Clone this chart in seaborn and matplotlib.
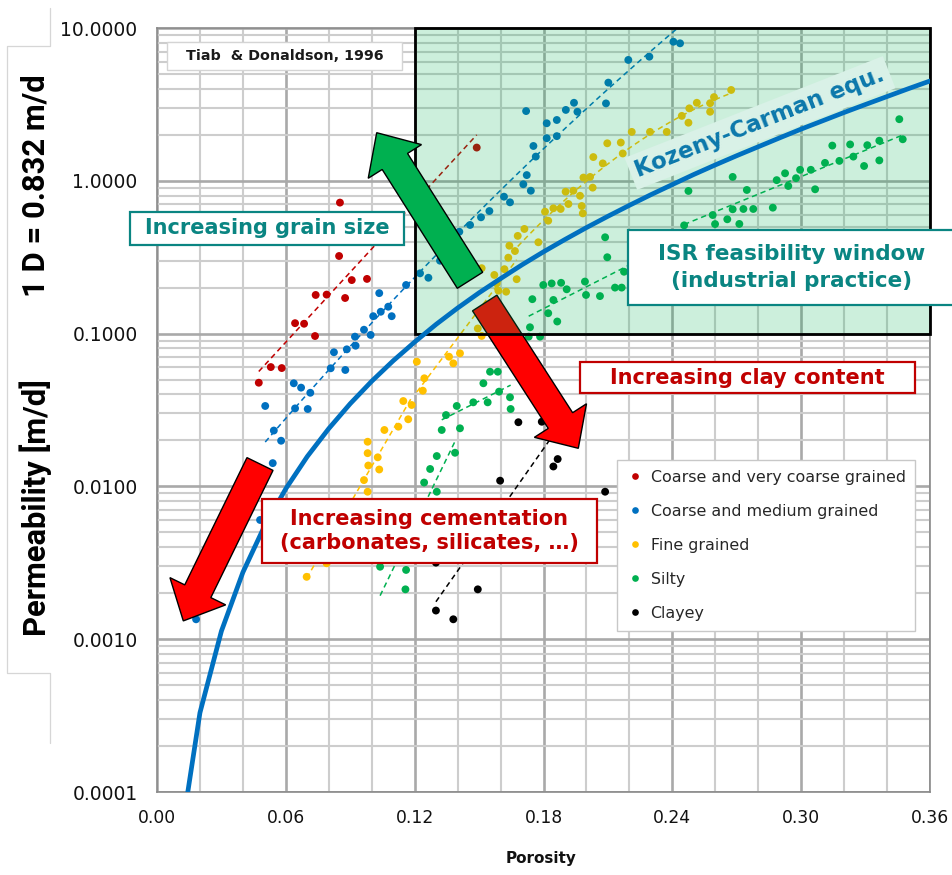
import numpy as np
import pandas as pd
import matplotlib
matplotlib.use("Agg")
import matplotlib.pyplot as plt
from matplotlib.patches import Rectangle, FancyArrow
from matplotlib.ticker import FixedLocator, FuncFormatter, NullFormatter
import seaborn as sns

# ---------------- data ----------------
groups = ["Coarse and very coarse grained", "Coarse and medium grained",
          "Fine grained", "Silty", "Clayey"]
group_colors = ["#c00000", "#0070c0", "#ffc000", "#00b050", "#000000"]

red_phi = [0.0852, 0.0848, 0.0907, 0.0978, 0.0739, 0.0790, 0.0876, 0.0643, 0.0685,
           0.0736, 0.0530, 0.0581, 0.0474, 0.1489]
red_k = [0.72, 0.322, 0.224, 0.228, 0.179, 0.180, 0.171, 0.117, 0.116,
         0.0964, 0.0604, 0.0595, 0.0477, 1.65]
red_sub = ["R1"] * 14

blue_phi = [0.2436, 0.2405, 0.2293, 0.2195, 0.2102, 0.2091, 0.1942, 0.1958, 0.1904, 0.1862,
            0.1815, 0.1815, 0.1862, 0.1719, 0.1753, 0.1764, 0.1722, 0.1706, 0.1741, 0.1616,
            0.1644, 0.1548, 0.1509, 0.1458, 0.1408, 0.1318, 0.1225, 0.1264, 0.1160, 0.1035,
            0.1007, 0.1042, 0.1077, 0.1093, 0.0964, 0.0922, 0.0995, 0.0925, 0.0884, 0.0824,
            0.0809, 0.0877, 0.0637, 0.0671, 0.0714, 0.0643, 0.0702, 0.0504, 0.0544, 0.0578,
            0.0539, 0.0480, 0.0182]
blue_k = [7.94, 8.13, 6.49, 6.18, 4.39, 3.21, 3.24, 2.83, 2.91, 2.50,
          2.38, 1.90, 1.96, 2.86, 1.69, 1.44, 1.09, 0.949, 0.861, 0.787,
          0.723, 0.634, 0.577, 0.514, 0.464, 0.300, 0.248, 0.232, 0.208, 0.184,
          0.130, 0.139, 0.150, 0.130, 0.106, 0.0955, 0.098, 0.0833, 0.0789, 0.0755,
          0.0593, 0.0578, 0.0473, 0.0443, 0.0410, 0.0324, 0.0321, 0.0336, 0.0232, 0.0199,
          0.0142, 0.00603, 0.00135]
blue_sub = ["B1"] * 51 + ["B0"] * 2

yellow_phi = [0.2674, 0.2594, 0.2576, 0.2514, 0.2479, 0.2576, 0.2444, 0.2475, 0.2374, 0.2296,
              0.2211, 0.2160, 0.2097, 0.2169, 0.2076, 0.2032, 0.2017, 0.1986, 0.2029, 0.1903,
              0.1939, 0.1970, 0.1978, 0.1983, 0.1846, 0.1880, 0.1916, 0.1807, 0.1822, 0.1711,
              0.1680, 0.1776,
              0.1641, 0.1667, 0.1636, 0.1675, 0.1618, 0.1571, 0.1512, 0.1582, 0.1626, 0.1590,
              0.1512, 0.1494, 0.1411, 0.1380, 0.1360, 0.1210, 0.1245, 0.1238,
              0.1147, 0.1186, 0.1170, 0.1124, 0.1059, 0.0981, 0.0981, 0.1028, 0.0984, 0.1035,
              0.0964, 0.0981, 0.0790, 0.0697]
yellow_k = [3.93, 3.53, 3.22, 3.24, 2.98, 2.83, 2.66, 2.40, 2.09, 2.09,
            2.09, 1.78, 1.76, 1.51, 1.30, 1.43, 1.06, 1.05, 0.902, 0.849,
            0.861, 0.798, 0.684, 0.612, 0.661, 0.654, 0.705, 0.628, 0.548, 0.484,
            0.436, 0.396,
            0.376, 0.347, 0.314, 0.227, 0.264, 0.242, 0.268, 0.213, 0.188, 0.191,
            0.0965, 0.108, 0.0743, 0.0639, 0.0706, 0.0655, 0.0510, 0.0423,
            0.0362, 0.0341, 0.0275, 0.0246, 0.0234, 0.0196, 0.0165, 0.0155, 0.0137, 0.0129,
            0.0110, 0.00923, 0.00314, 0.00256]
yellow_sub = ["Y3"] * 32 + ["Y2"] * 18 + ["Y1"] * 14

green_phi = [0.3457, 0.3473, 0.3364, 0.3364, 0.3308, 0.3293, 0.3228, 0.3243, 0.3178, 0.3145,
             0.3111, 0.3065, 0.3045, 0.2995, 0.2976, 0.2940, 0.2925, 0.2886, 0.2868, 0.2777,
             0.2731, 0.2681, 0.2747, 0.2681, 0.2712, 0.2656, 0.2588, 0.2599, 0.2475, 0.2455,
             0.2237, 0.2175, 0.2087, 0.2097, 0.2133, 0.2164, 0.2063, 0.1998, 0.1993, 0.1908,
             0.1882, 0.1838, 0.1799, 0.1846, 0.1748, 0.1822, 0.1864, 0.1737, 0.1784, 0.1731,
             0.1551, 0.1587, 0.1520, 0.1593, 0.1644, 0.1540, 0.1473, 0.1647, 0.1396, 0.1346,
             0.1411, 0.1326,
             0.1303, 0.1388, 0.1272, 0.1244, 0.1303, 0.1039, 0.1160, 0.1157]
green_k = [2.53, 1.87, 1.83, 1.36, 1.71, 1.25, 1.73, 1.44, 1.35, 1.70,
           1.31, 0.880, 1.18, 1.18, 1.04, 0.925, 1.12, 1.01, 0.667, 0.654,
           0.654, 0.651, 0.871, 1.06, 0.522, 0.560, 0.597, 0.521, 0.858, 0.511,
           0.274, 0.254, 0.427, 0.316, 0.200, 0.200, 0.176, 0.179, 0.219, 0.195,
           0.215, 0.213, 0.208, 0.166, 0.168, 0.136, 0.120, 0.110, 0.0955, 0.0955,
           0.0563, 0.0563, 0.0473, 0.0417, 0.0383, 0.0355, 0.0355, 0.0321, 0.0336, 0.0293,
           0.0240, 0.0234,
           0.0158, 0.0166, 0.0130, 0.0106, 0.00923, 0.00298, 0.00284, 0.00212]
green_sub = ["G3"] * 30 + ["G2"] * 20 + ["G1b"] * 12 + ["G1a"] * 8

black_phi = [0.1299, 0.1380, 0.1299, 0.1494, 0.1598, 0.1683, 0.1792, 0.1846, 0.1866, 0.2087]
black_k = [0.00154, 0.00135, 0.00317, 0.00212, 0.0109, 0.0263, 0.0265, 0.0135, 0.0151, 0.00923]
black_sub = ["K1"] * 9 + ["K0"]

# polynomial degree of the dashed trend line (log k vs porosity) per sub-series
trend_degree = {"R1": 1, "B1": 2, "Y1": 1, "Y2": 1, "Y3": 2,
                "G1a": 1, "G1b": 1, "G2": 1, "G3": 1, "K1": 1}

# Kozeny-Carman curve
kc_phi = [0.01, 0.02, 0.03, 0.04, 0.05, 0.06, 0.07, 0.08, 0.09, 0.10, 0.11, 0.12,
          0.13, 0.14, 0.15, 0.16, 0.17, 0.18, 0.19, 0.20, 0.21, 0.22, 0.23, 0.24,
          0.25, 0.26, 0.27, 0.28, 0.29, 0.30, 0.31, 0.32, 0.33, 0.34, 0.35, 0.36]
kc_k = [4.0e-5, 3.3e-4, 1.13e-3, 2.74e-3, 5.47e-3, 9.66e-3, 0.0157, 0.0239, 0.0348, 0.0488,
        0.0664, 0.0881, 0.115, 0.147, 0.185, 0.229, 0.282, 0.343, 0.413, 0.494,
        0.586, 0.691, 0.811, 0.945, 1.10, 1.27, 1.46, 1.67, 1.91, 2.18,
        2.47, 2.80, 3.16, 3.56, 4.01, 4.50]

# ISR feasibility window
isr_phi = [0.12, 0.36]
isr_k = [0.1, 10.0]

x_ticks = [0.00, 0.06, 0.12, 0.18, 0.24, 0.30, 0.36]
y_ticks = [0.0001, 0.001, 0.01, 0.1, 1.0, 10.0]

# ---------------- figure ----------------
sns.set_style("white")
plt.rcParams["font.family"] = ["DejaVu Sans"]

W, H = 952, 875
fig = plt.figure(figsize=(W / 100, H / 100), dpi=100)
ax = fig.add_axes([157 / W, 1 - 792 / H, (930 - 157) / W, (792 - 28) / H])
ov = fig.add_axes([0, 0, 1, 1], zorder=5)
ov.set_xlim(0, W)
ov.set_ylim(H, 0)
ov.set_autoscale_on(False)
ov.axis("off")

frames = []
for g, ph, kk, sb in [(groups[0], red_phi, red_k, red_sub),
                      (groups[1], blue_phi, blue_k, blue_sub),
                      (groups[2], yellow_phi, yellow_k, yellow_sub),
                      (groups[3], green_phi, green_k, green_sub),
                      (groups[4], black_phi, black_k, black_sub)]:
    frames.append(pd.DataFrame({"phi": ph, "k": kk, "sub": sb, "group": g}))
df = pd.concat(frames, ignore_index=True)

ax.set_yscale("log")
ax.set_xlim(0, 0.36)
ax.set_ylim(1e-4, 10)

sns.scatterplot(data=df, x="phi", y="k", hue="group", hue_order=groups,
                palette=group_colors, s=32, linewidth=0, ax=ax, zorder=2)

# dashed trend lines
cmap = dict(zip(groups, group_colors))
for sub, deg in trend_degree.items():
    d = df[df["sub"] == sub]
    c = np.polyfit(d["phi"], np.log10(d["k"]), deg)
    xs = np.linspace(d["phi"].min(), d["phi"].max(), 60)
    ax.plot(xs, 10 ** np.polyval(c, xs), color=cmap[d["group"].iloc[0]],
            lw=1.1, ls=(0, (3.5, 2.5)), zorder=2)

# ISR window (semi-transparent, above points)
ax.fill_between(isr_phi, isr_k[0], isr_k[1], color="#00b050", alpha=0.2, lw=0, zorder=3)
ax.add_patch(Rectangle((isr_phi[0], isr_k[0]), isr_phi[1] - isr_phi[0], isr_k[1] - isr_k[0],
                       fill=False, ec="black", lw=2, zorder=3.2, clip_on=False))

# Kozeny-Carman curve
sns.lineplot(x=kc_phi, y=kc_k, ax=ax, color="#0070c0", lw=3.4, zorder=4)

# axes styling
ax.xaxis.set_major_locator(FixedLocator(x_ticks))
ax.xaxis.set_minor_locator(FixedLocator(np.arange(0, 0.3601, 0.02)))
ax.yaxis.set_major_locator(FixedLocator(y_ticks))
ax.yaxis.set_minor_locator(FixedLocator([m * 10.0 ** e for e in range(-4, 1) for m in range(2, 10)]))
ax.xaxis.set_major_formatter(FuncFormatter(lambda v, p: f"{v:.2f}"))
ax.yaxis.set_major_formatter(FuncFormatter(lambda v, p: f"{v:.4f}"))
ax.yaxis.set_minor_formatter(NullFormatter())
ax.set_axisbelow(True)
ax.grid(which="major", color="#a9a9a9", lw=1.9)
ax.grid(which="minor", color="#cdcdcd", lw=1.5)
ax.tick_params(axis="both", which="both", direction="out", color="#808080")
ax.tick_params(axis="y", which="major", length=7, width=1, labelsize=13.5, pad=7, labelcolor="#111111")
ax.tick_params(axis="y", which="minor", length=0)
ax.tick_params(axis="x", which="major", length=6, width=1, labelsize=12.3, pad=6, labelcolor="#111111")
ax.tick_params(axis="x", which="minor", length=5, width=1)
for s in ax.spines.values():
    s.set_color("#8a8a8a")
    s.set_linewidth(1.2)
ax.set_xlabel("")
ax.set_ylabel("")

# legend
handles, labels = ax.get_legend_handles_labels()
leg = ax.legend(handles[:5], labels[:5], loc="upper left",
                bbox_to_anchor=(617 / W, 1 - 460 / H), bbox_transform=fig.transFigure,
                frameon=True, fancybox=False, framealpha=1, edgecolor="#c8c8c8",
                fontsize=11.4, labelspacing=1.2, handletextpad=0.5, borderpad=0.62,
                handlelength=1.0, markerscale=0.85, borderaxespad=0)
leg.get_frame().set_linewidth(1.0)
leg.set_zorder(10)

# arrows (pixel geometry)
clay = FancyArrow(484.7, 303, 93.6, 145.3, width=29, head_width=62, head_length=33,
                  length_includes_head=True, fc="#ff0000", ec="black", lw=1,
                  transform=ov.transData, zorder=2.5, clip_on=False)
ax.add_artist(clay)
ov.add_patch(FancyArrow(260, 464, -76.7, 156.9, width=29, head_width=62, head_length=33,
                        length_includes_head=True, fc="#ff0000", ec="black", lw=1, zorder=2))
ov.add_patch(FancyArrow(470, 280.3, -93.3, -147.6, width=30, head_width=63, head_length=34,
                        length_includes_head=True, fc="#00b050", ec="black", lw=1, zorder=2))

# text boxes
def box_text(x0, y0, x1, y1, txt, color, edge, size, weight="bold", lw=1.6, ls=1.45):
    ov.add_patch(Rectangle((x0, y0), x1 - x0, y1 - y0, fc="white", ec=edge, lw=lw,
                           zorder=3, clip_on=False))
    ov.text((x0 + x1) / 2, (y0 + y1) / 2, txt, color=color, fontsize=size,
            fontweight=weight, ha="center", va="center", linespacing=ls, zorder=4)

teal = "#0a8582"
dred = "#c00000"
box_text(167, 42, 402, 70, "Tiab  & Donaldson, 1996", "#1a1a1a", "#d4d4d4", 10.3, lw=1.0)
box_text(130, 212, 404, 245, "Increasing grain size", teal, teal, 15)
box_text(628, 230, 955, 305, "ISR feasibility window\n(industrial practice)", teal, teal, 15.5)
box_text(580, 362, 915, 393, "Increasing clay content", dred, dred, 15)
box_text(262, 499, 597, 563, "Increasing cementation\n(carbonates, silicates, \u2026)", dred, dred, 15,
         ls=1.3)

ov.text(760, 123, "Kozeny-Carman equ.", color="#0b78ab", fontsize=16.5, fontweight="bold",
        rotation=21.5, rotation_mode="anchor", ha="center", va="center", zorder=4,
        bbox=dict(boxstyle="square,pad=0.25", fc="#d9f1e7", ec="none"))

# left label block
ov.plot([50, 50, 7, 7, 50, 50], [8, 46, 46, 673, 673, 743], color="#d6d6d6", lw=0.9, zorder=1)
lab_font = ["Roboto", "DejaVu Sans"]
ov.text(36, 186, "1 D = 0.832 m/d", rotation=90, ha="center", va="center",
        fontsize=22.3, fontweight="bold", family=lab_font, color="black")
ov.text(36, 508, "Permeability [m/d]", rotation=90, ha="center", va="center",
        fontsize=22.3, fontweight="bold", family=lab_font, color="black")
ov.text(541, 858, "Porosity", ha="center", va="center", fontsize=11, fontweight="bold",
        color="#111111")

fig.savefig("out.png", dpi=100)
